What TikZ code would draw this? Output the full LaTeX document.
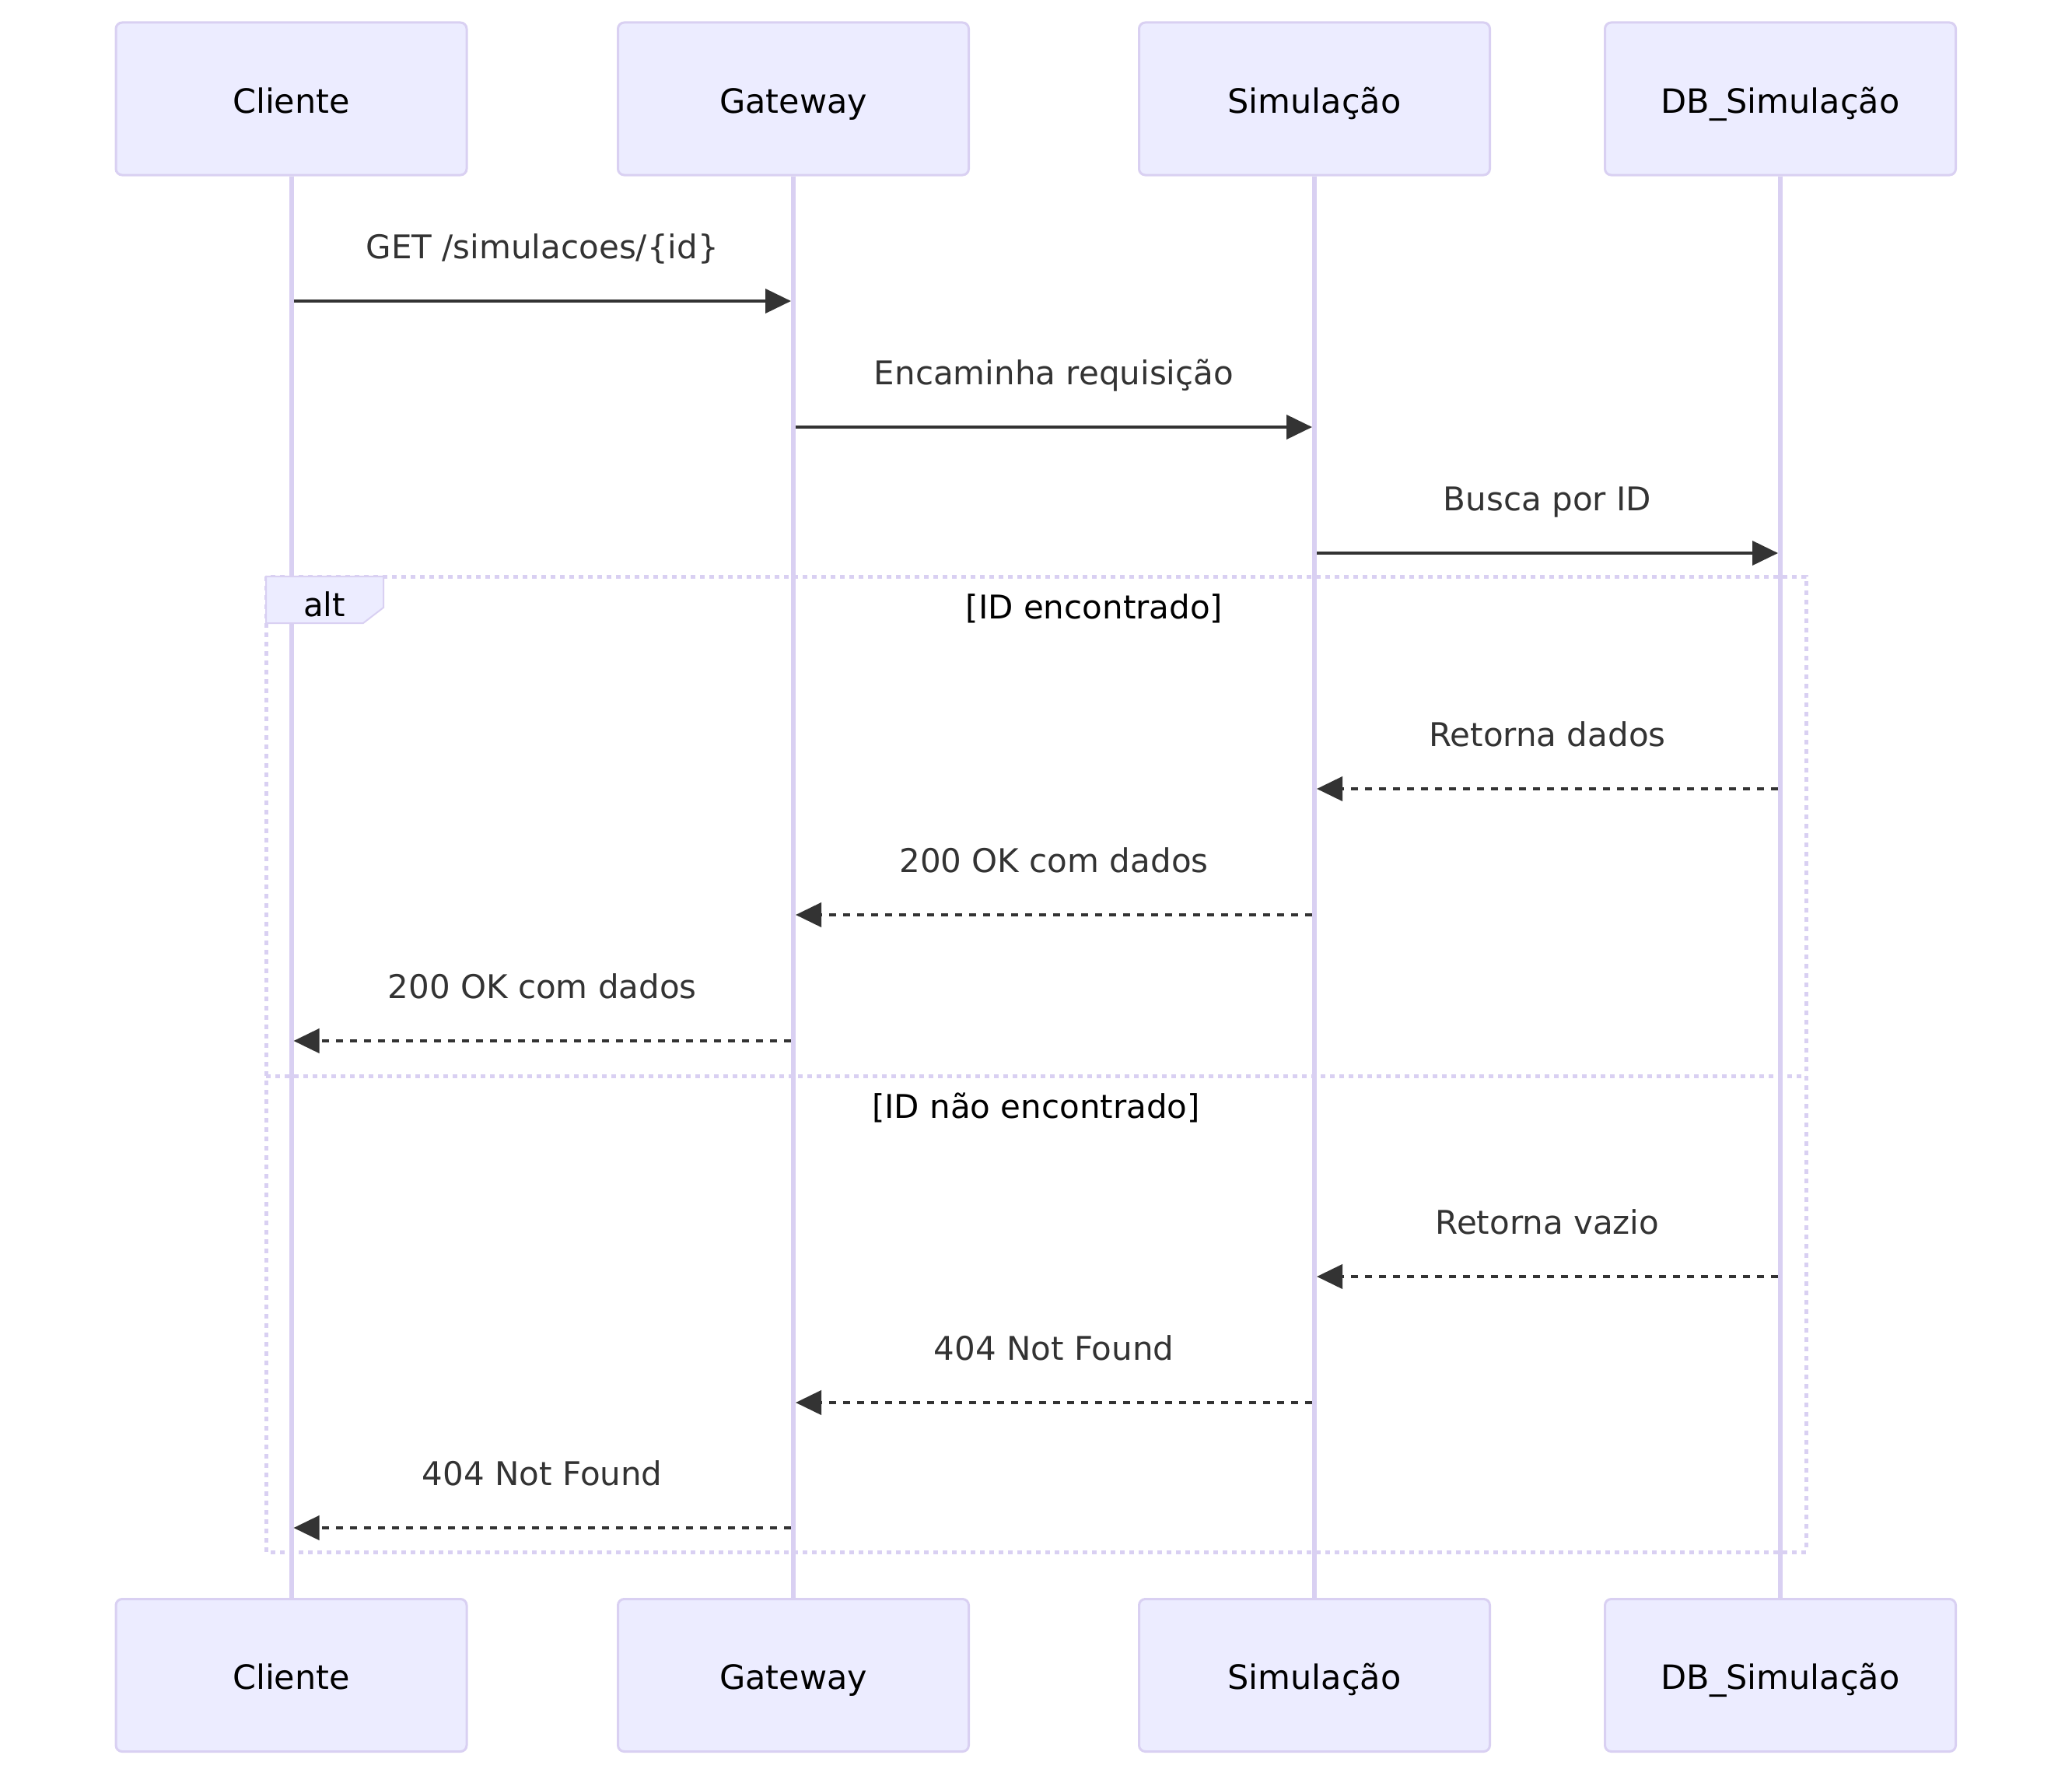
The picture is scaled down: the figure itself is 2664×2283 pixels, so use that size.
\documentclass[tikz,border=0pt]{standalone}
\usepackage{fontspec}
\setmainfont{DejaVu Sans}
\usetikzlibrary{arrows.meta}
\definecolor{lav}{HTML}{D9D0F2}
\definecolor{actfill}{HTML}{ECECFF}
\definecolor{ink}{HTML}{333333}
\begin{document}
\begin{tikzpicture}[x=1pt,y=-1pt,
  actor/.style={draw=lav, line width=3pt, fill=actfill, rounded corners=8pt,
    minimum width=451pt, minimum height=196pt, inner sep=0pt,
    text height=36pt, text depth=0pt,
    font=\fontsize{43}{50}\selectfont, text=black},
  life/.style={draw=lav, line width=6pt},
  msg/.style={draw=ink, line width=4pt, -{Triangle[length=33pt,width=31pt]},
    shorten <=3pt, shorten >=3pt},
  reply/.style={msg, dash pattern=on 9pt off 9pt},
  lbl/.style={font=\fontsize{42}{50}\selectfont, text=ink, anchor=base, yshift=55pt},
  sect/.style={font=\fontsize{42}{50}\selectfont, text=black, anchor=base},
  frame/.style={draw=lav, line width=5pt, dash pattern=on 6pt off 6pt}]

\useasboundingbox (0,0) rectangle (2664,2283);
\fill[white] (0,0) rectangle (2664,2283);

% alt frame
\draw[frame] (342,741) rectangle (2322,1995);
\draw[frame] (342,1383) -- (2322,1383);

% actors
\node[actor] (cT) at (374.5,127) {Cliente};
\node[actor] (gT) at (1020,127) {Gateway};
\node[actor] (sT) at (1690,127) {Simulação};
\node[actor] (dT) at (2289,127) {DB\_Simulação};
\node[actor] (cB) at (374.5,2153.5) {Cliente};
\node[actor] (gB) at (1020,2153.5) {Gateway};
\node[actor] (sB) at (1690,2153.5) {Simulação};
\node[actor] (dB) at (2289,2153.5) {DB\_Simulação};

% lifelines
\draw[life] (cT.south) -- (cB.north);
\draw[life] (gT.south) -- (gB.north);
\draw[life] (sT.south) -- (sB.north);
\draw[life] (dT.south) -- (dB.north);

% alt label box
\draw[draw=lav, line width=2pt, fill=actfill] (342,741) -- (493,741) -- (493,781) -- (467,801) -- (342,801) -- cycle;
\node[sect] (altlbl) at (417,792) {alt};
\node[sect] (s1) at (1407,795) {[ID encontrado]};
\node[sect] (s2) at (1332,1437) {[ID não encontrado]};

% message rows
\coordinate (m1) at (0,387);
\coordinate (m2) at (0,549);
\coordinate (m3) at (0,711);
\coordinate (m4) at (0,1014);
\coordinate (m5) at (0,1176);
\coordinate (m6) at (0,1338);
\coordinate (m7) at (0,1641);
\coordinate (m8) at (0,1803);
\coordinate (m9) at (0,1964);

\draw[msg] (cT.south |- m1) -- node[lbl, midway] {GET /simulacoes/\{id\}} (gT.south |- m1);
\draw[msg] (gT.south |- m2) -- node[lbl, midway] {Encaminha requisição} (sT.south |- m2);
\draw[msg] (sT.south |- m3) -- node[lbl, midway] {Busca por ID} (dT.south |- m3);
\draw[reply] (dT.south |- m4) -- node[lbl, midway] {Retorna dados} (sT.south |- m4);
\draw[reply] (sT.south |- m5) -- node[lbl, midway] {200 OK com dados} (gT.south |- m5);
\draw[reply] (gT.south |- m6) -- node[lbl, midway] {200 OK com dados} (cT.south |- m6);
\draw[reply] (dT.south |- m7) -- node[lbl, midway] {Retorna vazio} (sT.south |- m7);
\draw[reply] (sT.south |- m8) -- node[lbl, midway] {404 Not Found} (gT.south |- m8);
\draw[reply] (gT.south |- m9) -- node[lbl, midway] {404 Not Found} (cT.south |- m9);
\end{tikzpicture}
\end{document}
